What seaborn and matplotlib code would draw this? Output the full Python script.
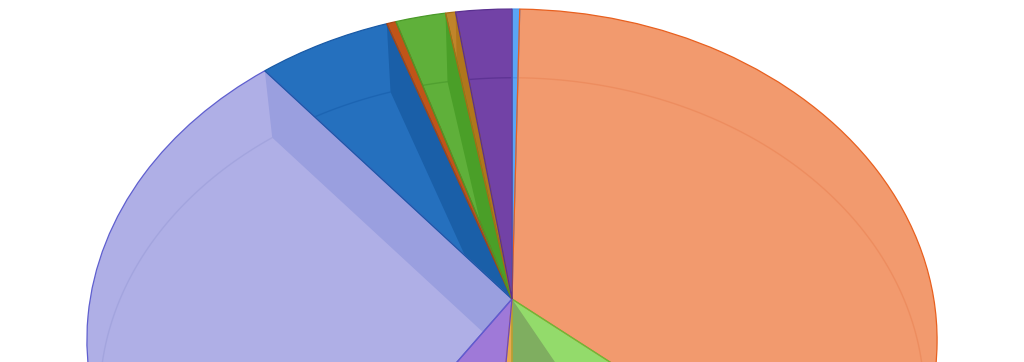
import matplotlib
matplotlib.use("Agg")
import matplotlib.pyplot as plt
import numpy as np
import seaborn as sns
from matplotlib.transforms import Transform

# share of each slice in percent, clockwise from twelve o'clock
slice_values = [0.33, 35.72, 13.94, 1.17, 8.28, 29.47, 5.71, 0.40, 2.15, 0.43, 2.40]
face_colors = ["#5aa5f5", "#f29a6e", "#93db6b", "#e8a850", "#9f79d8", "#afafe6",
               "#2570be", "#c05418", "#5fb03a", "#c0842a", "#7242a6"]
edge_colors = ["#4a94e8", "#e8601f", "#62c23a", "#d89030", "#6b47c4", "#5f5fcf",
               "#1a5aa6", "#a84510", "#4a9a28", "#a86c14", "#5a3090"]
wall_colors = [None, None, None, None, None, "#9a9fdf",
               "#1a5fa8", None, "#4a9f28", "#b0761c", None]
rim_colors = ["#4a94e8", "#ec8a5c", "#80c85a", "#d89030", "#8a62c8", "#a0a2dc",
              "#1a62b0", "#a84510", "#4d9c2e", "#a86c14", "#5a3090"]

# the light green slice has a shaded part next to its last edge
green_index = 2
green_shade_share = 7.7
green_shade_color = "#7fae60"


class Tilt(Transform):
    # perspective view of the unit circle, the centre stays at (0, 0)
    input_dims = 2
    output_dims = 2

    def __init__(self, scale=1.0, drop=0.0):
        super().__init__()
        self.scale = scale
        self.drop = drop

    def transform_non_affine(self, values):
        u, v = np.asarray(values).T
        w = 1 + 0.124 * v
        return np.column_stack((421.8 * u / w * self.scale,
                                325.9 * v / w * self.scale - self.drop))


def clock_point(tilt, share):
    angle = np.radians(share * 3.6)
    return tilt.transform_non_affine(np.column_stack((np.sin(angle), np.cos(angle))))


sns.set_theme(style="white")
fig = plt.figure(figsize=(10.24, 3.62), dpi=100, facecolor="white")
ax = fig.add_axes([0, 0, 1, 1])

outer = Tilt()
inner = Tilt(scale=0.97, drop=60)

wedges, _ = ax.pie(
    slice_values,
    colors=sns.color_palette(face_colors),
    startangle=90,
    counterclock=False,
    wedgeprops={"transform": outer + ax.transData, "linewidth": 0},
)

ends = np.cumsum(slice_values)
starts = ends - np.array(slice_values)

for i, wedge in enumerate(wedges):
    # flat inner rim of the slice
    shares = np.linspace(starts[i], ends[i], 120)
    rim = clock_point(inner, shares)
    line, = ax.plot(rim[:, 0], rim[:, 1], color=rim_colors[i], lw=1, alpha=0.8)
    line.set_clip_path(wedge)

    # side wall next to the slice's last edge, down to the lowered centre
    if wall_colors[i] is not None:
        a = clock_point(outer, np.array([ends[i]]))[0]
        b = clock_point(inner, np.array([ends[i]]))[0]
        wall = ax.fill([0, a[0], b[0], 0], [0, a[1], b[1], -inner.drop],
                       color=wall_colors[i], lw=0)[0]
        wall.set_clip_path(wedge)

shade = clock_point(outer, np.array([ends[green_index] - green_shade_share, ends[green_index]]))
patch = ax.fill([0, shade[0, 0], shade[1, 0]], [0, shade[0, 1], shade[1, 1]],
                color=green_shade_color, lw=0)[0]
patch.set_clip_path(wedges[green_index])

# outlines on top of everything else
outlines, _ = ax.pie(
    slice_values,
    colors=face_colors,
    startangle=90,
    counterclock=False,
    wedgeprops={"transform": outer + ax.transData, "fill": False, "linewidth": 0.9},
)
for outline, color in zip(outlines, edge_colors):
    outline.set_edgecolor(color)
    outline.set_zorder(3)

ax.set_aspect("auto")
ax.set_xlim(-512, 512)
ax.set_ylim(-63, 299)
ax.axis("off")

fig.savefig("out.png", dpi=100, facecolor="white")
